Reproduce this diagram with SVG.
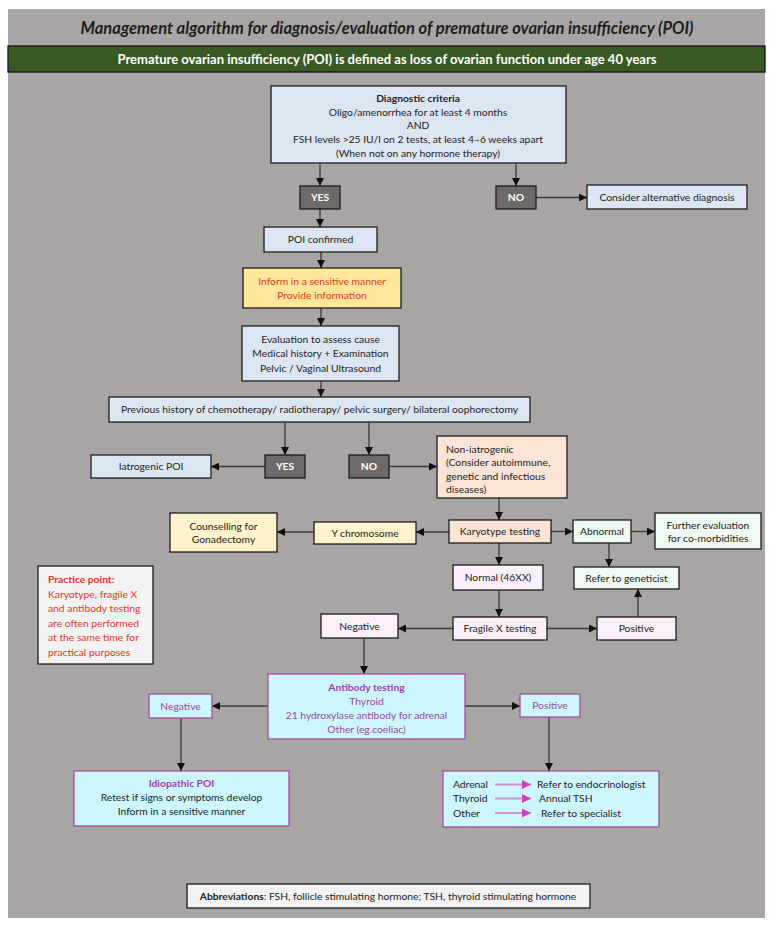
<svg xmlns="http://www.w3.org/2000/svg" width="777" height="930" viewBox="0 0 777 930">
<defs>
<marker id="ah" viewBox="0 0 10 10" refX="10" refY="5" markerWidth="8" markerHeight="8" markerUnits="userSpaceOnUse" orient="auto"><path d="M0,0 L10,5 L0,10 z" fill="#111"/></marker>
<marker id="ahp" viewBox="0 0 10 10" refX="10" refY="5" markerWidth="9" markerHeight="9" markerUnits="userSpaceOnUse" orient="auto"><path d="M0,0 L10,5 L0,10 z" fill="#cc3fbf"/></marker>
<style>
text{font-family:Lato,"Liberation Sans",sans-serif;font-size:10.3px;fill:#222}
.c{text-anchor:middle}
.b{font-weight:bold}
.w{fill:#fff}
.red{fill:#e8342a}
.pur{fill:#a03ea6}
.bx{stroke:#1c1c1c;stroke-width:1.3}
.blue{fill:#dce6f2}
.dk{fill:#6e6a69}
.yel{fill:#ffe699}
.peach{fill:#fbe4d5}
.ly{fill:#fff2cc}
.mint{fill:#eefaf2}
.lav{fill:#fbeffa}
.cy{fill:#cdf6fc;stroke:#a24ea6;stroke-width:1.3}
.gr{fill:#f2f2f2}
.ln{stroke:#3a3a3a;stroke-width:1.3;fill:none;marker-end:url(#ah)}
.pl{stroke:#cf8fd0;stroke-width:2;fill:none;marker-end:url(#ahp)}
</style>
</defs>
<rect x="0" y="0" width="777" height="930" fill="#ffffff"/>
<rect x="8" y="9" width="757" height="909" fill="#a9a5a4"/>
<g id="title">
<text x="387" y="34" class="c b" style="font-size:16.5px;font-style:italic;fill:#1e1e1e">Management algorithm for diagnosis/evaluation of premature ovarian insufficiency (POI)</text>
</g>
<g id="banner">
<rect x="8" y="46" width="757" height="26" fill="#3a5a25" stroke="#111" stroke-width="1.3"/>
<text x="387" y="64" class="c b w" style="font-size:13px">Premature ovarian insufficiency (POI) is defined as loss of ovarian function under age 40 years</text>
</g>

<g id="connectors">
<path class="ln" d="M320,163 V186"/>
<path class="ln" d="M516,163 V186"/>
<path class="ln" d="M536,197.5 H587"/>
<path class="ln" d="M320,209 V227"/>
<path class="ln" d="M321,252 V268"/>
<path class="ln" d="M321,308 V326"/>
<path class="ln" d="M321,381 V397"/>
<path class="ln" d="M285,422 V455"/>
<path class="ln" d="M369,422 V455"/>
<path class="ln" d="M265,466.5 H211"/>
<path class="ln" d="M389,466.5 H437"/>
<path class="ln" d="M499,498 V520"/>
<path class="ln" d="M449,532 H416"/>
<path class="ln" d="M314,532 H277"/>
<path class="ln" d="M551,531.5 H573"/>
<path class="ln" d="M631,531.5 H655"/>
<path class="ln" d="M609,543 V567"/>
<path class="ln" d="M499,543 V565"/>
<path class="ln" d="M499,590 V617"/>
<path class="ln" d="M453,628.5 H398"/>
<path class="ln" d="M547,628.5 H597"/>
<path class="ln" d="M638,617 V589"/>
<path class="ln" d="M364,638 V674"/>
<path class="ln" d="M268,706 H212"/>
<path class="ln" d="M465,706 H520"/>
<path class="ln" d="M181,718 V771"/>
<path class="ln" d="M549,717 V771"/>
</g>

<g id="diag">
<rect x="271" y="86" width="295" height="77" class="bx blue"/>
<text x="418" y="101.5" class="c b">Diagnostic criteria</text>
<text x="418" y="115.5" class="c">Oligo/amenorrhea for at least 4 months</text>
<text x="418" y="129" class="c">AND</text>
<text x="418" y="142.5" class="c">FSH levels &gt;25 IU/l on 2 tests, at least 4–6 weeks apart</text>
<text x="418" y="156.5" class="c">(When not on any hormone therapy)</text>
</g>
<g id="yes1"><rect x="300" y="186" width="40" height="23" class="bx dk"/><text x="320" y="201" class="c b w">YES</text></g>
<g id="no1"><rect x="496" y="186" width="40" height="23" class="bx dk"/><text x="516" y="201" class="c b w">NO</text></g>
<g id="alt"><rect x="587" y="185" width="160" height="24" class="bx blue"/><text x="667" y="200.5" class="c">Consider alternative diagnosis</text></g>
<g id="poi"><rect x="264" y="227" width="113" height="25" class="bx blue"/><text x="320.5" y="243" class="c">POI confirmed</text></g>
<g id="inform"><rect x="243" y="268" width="158" height="40" class="bx yel"/>
<text x="322" y="285" class="c red">Inform in a sensitive manner</text>
<text x="322" y="299" class="c red">Provide information</text></g>
<g id="eval"><rect x="242" y="326" width="157" height="55" class="bx blue"/>
<text x="320.5" y="342.5" class="c">Evaluation to assess cause</text>
<text x="320.5" y="357" class="c">Medical history + Examination</text>
<text x="320.5" y="371.5" class="c">Pelvic / Vaginal Ultrasound</text></g>
<g id="prev"><rect x="109" y="397" width="421" height="25" class="bx blue"/>
<text x="319.5" y="413" class="c">Previous history of chemotherapy/ radiotherapy/ pelvic surgery/ bilateral oophorectomy</text></g>
<g id="yes2"><rect x="265" y="455" width="40" height="23" class="bx dk"/><text x="285" y="470" class="c b w">YES</text></g>
<g id="no2"><rect x="349" y="455" width="40" height="23" class="bx dk"/><text x="369" y="470" class="c b w">NO</text></g>
<g id="iat"><rect x="91" y="455" width="120" height="23" class="bx blue"/><text x="151" y="470" class="c">Iatrogenic POI</text></g>
<g id="noniat"><rect x="437" y="436" width="130" height="62" class="bx peach"/>
<text x="446" y="452.5">Non-iatrogenic</text>
<text x="446" y="466">(Consider autoimmune,</text>
<text x="446" y="479.5">genetic and infectious</text>
<text x="446" y="493">diseases)</text></g>
<g id="karyo"><rect x="449" y="520" width="102" height="23" class="bx peach"/><text x="500" y="535" class="c">Karyotype testing</text></g>
<g id="ychr"><rect x="314" y="522" width="102" height="22" class="bx ly"/><text x="365" y="536.5" class="c">Y chromosome</text></g>
<g id="couns"><rect x="170" y="513" width="107" height="39" class="bx ly"/>
<text x="223.5" y="529.5" class="c">Counselling for</text>
<text x="223.5" y="543" class="c">Gonadectomy</text></g>
<g id="abn"><rect x="573" y="520" width="58" height="23" class="bx mint"/><text x="602" y="535" class="c">Abnormal</text></g>
<g id="furth"><rect x="655" y="513" width="106" height="36" class="bx mint"/>
<text x="708" y="528.5" class="c">Further evaluation</text>
<text x="708" y="541.5" class="c">for co-morbidities</text></g>
<g id="gen"><rect x="574" y="567" width="105" height="22" class="bx mint"/><text x="626.5" y="581.5" class="c">Refer to geneticist</text></g>
<g id="normal"><rect x="453" y="565" width="90" height="25" class="bx lav"/><text x="498" y="581" class="c">Normal (46XX)</text></g>
<g id="frag"><rect x="453" y="617" width="94" height="23" class="bx lav"/><text x="500" y="632" class="c">Fragile X testing</text></g>
<g id="neg1"><rect x="321" y="614" width="77" height="24" class="bx lav"/><text x="359.5" y="629.5" class="c">Negative</text></g>
<g id="pos1"><rect x="597" y="617" width="79" height="23" class="bx lav"/><text x="636.5" y="632" class="c">Positive</text></g>
<g id="practice"><rect x="38" y="566" width="115" height="98" class="bx gr"/>
<text x="48" y="582.5" class="b red">Practice point:</text>
<text x="48" y="597.5" class="red">Karyotype, fragile X</text>
<text x="48" y="612" class="red">and antibody testing</text>
<text x="48" y="626.5" class="red">are often performed</text>
<text x="48" y="641" class="red">at the same time for</text>
<text x="48" y="655.5" class="red">practical purposes</text></g>
<g id="antib"><rect x="268" y="674" width="197" height="65" class="cy"/>
<text x="366.5" y="690.5" class="c b pur">Antibody testing</text>
<text x="366.5" y="704.5" class="c pur">Thyroid</text>
<text x="366.5" y="718.5" class="c pur">21 hydroxylase antibody for adrenal</text>
<text x="366.5" y="732.5" class="c pur">Other (eg.coeliac)</text></g>
<g id="neg2"><rect x="149" y="694" width="63" height="24" class="cy"/><text x="180.5" y="709.5" class="c pur">Negative</text></g>
<g id="pos2"><rect x="520" y="694" width="60" height="23" class="cy"/><text x="550" y="709" class="c pur">Positive</text></g>
<g id="idio"><rect x="74" y="771" width="215" height="55" class="cy"/>
<text x="181.5" y="786.5" class="c b pur">Idiopathic POI</text>
<text x="181.5" y="800.5" class="c">Retest if signs or symptoms develop</text>
<text x="181.5" y="815" class="c">Inform in a sensitive manner</text></g>
<g id="posbox"><rect x="443" y="771" width="216" height="56" class="cy"/>
<text x="453" y="788">Adrenal</text>
<text x="453" y="802">Thyroid</text>
<text x="453" y="816.5">Other</text>
<path class="pl" d="M495,784.5 H531"/>
<path class="pl" d="M495,798.5 H531"/>
<path class="pl" d="M495,813 H531"/>
<text x="537" y="788">Refer to endocrinologist</text>
<text x="539" y="802">Annual TSH</text>
<text x="541" y="816.5">Refer to specialist</text></g>
<g id="abbrev"><rect x="187" y="884" width="403" height="24" class="bx gr"/>
<text x="388" y="899.5" class="c"><tspan class="b">Abbreviations</tspan>: FSH, follicle stimulating hormone; TSH, thyroid stimulating hormone</text></g>
</svg>
